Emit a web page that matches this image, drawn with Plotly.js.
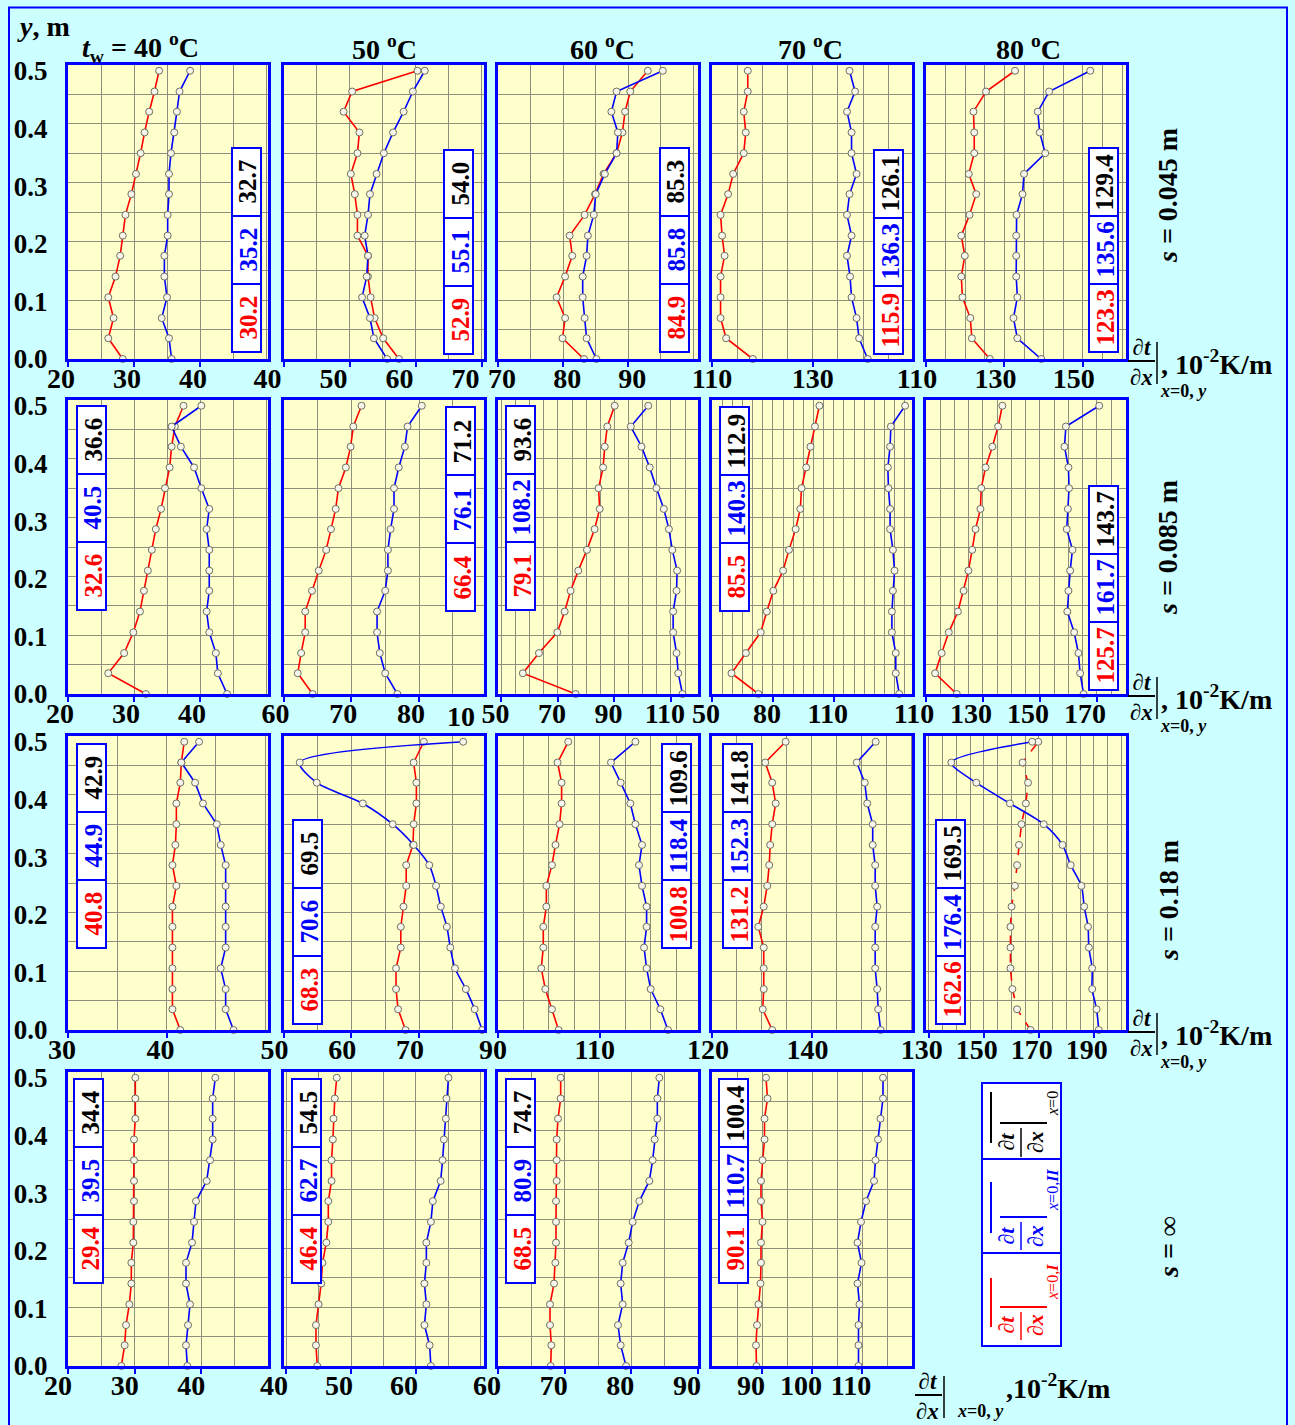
<!DOCTYPE html>
<html><head><meta charset="utf-8">
<script src="https://cdn.plot.ly/plotly-3.0.1.min.js"></script>
<style>html,body{margin:0;padding:0;background:#ccffff;}#chart{width:1295px;height:1425px;}</style>
</head><body><div id="chart"></div>
<script>
// ---------------- DATA ----------------
// measurement heights y, m (bottom to top)
const heights = [0, 0.036, 0.071, 0.107, 0.143, 0.179, 0.214, 0.25, 0.286, 0.321, 0.357, 0.393, 0.429, 0.464, 0.5];
const yTickVals = [0, 0.1, 0.2, 0.3, 0.4, 0.5];
const yTickText = ['0.0', '0.1', '0.2', '0.3', '0.4', '0.5'];
const wallTemps = ['<i>t</i><sub>w</sub> = 40 <sup>o</sup>C', '50 <sup>o</sup>C', '60 <sup>o</sup>C', '70 <sup>o</sup>C', '80 <sup>o</sup>C'];
const gapLabels = ['<i>s</i> = 0.045 m', '<i>s</i> = 0.085 m', '<i>s</i> = 0.18 m', '<i>s</i> = ∞'];

// s = 0.045 m  (I = red, II = blue)
const g045_40_I  = [28.3, 26.1, 26.9, 26.1, 27.2, 27.9, 28.3, 28.7, 29.6, 30.3, 31.0, 31.6, 32.3, 33.1, 33.8];
const g045_40_II = [35.7, 35.3, 34.2, 35.0, 34.6, 34.6, 35.1, 35.1, 35.3, 35.3, 35.6, 36.1, 36.5, 36.9, 38.5];
const g045_50_I  = [57.5, 55.1, 53.8, 53.2, 52.8, 52.8, 51.2, 51.2, 50.8, 50.2, 51.2, 51.5, 49.1, 50.4, 60.3];
const g045_50_II = [55.7, 53.7, 53.1, 51.9, 52.6, 52.8, 52.3, 52.8, 53.1, 54.1, 55.2, 56.6, 58.2, 59.6, 61.4];
const g045_60_I  = [83.2, 79.9, 80.3, 79.0, 80.3, 81.4, 81.0, 83.3, 84.9, 86.2, 88.2, 89.1, 89.5, 90.3, 93.0];
const g045_60_II = [85.1, 83.6, 83.3, 83.0, 83.0, 83.6, 83.8, 84.7, 85.0, 86.4, 88.2, 88.4, 87.4, 88.2, 95.3];
const g045_70_I  = [118.1, 112.8, 111.7, 111.7, 111.7, 112.5, 112.0, 111.7, 113.2, 114.2, 116.3, 116.7, 116.3, 117.1, 117.1];
const g045_70_II = [140.9, 139.2, 138.7, 137.7, 137.4, 136.8, 137.7, 136.8, 137.3, 138.7, 137.7, 137.7, 136.8, 138.4, 137.3];
const g045_80_I  = [126.3, 121.7, 121.3, 119.3, 119.0, 119.9, 119.0, 121.1, 122.8, 120.9, 122.3, 122.3, 122.1, 125.3, 132.7];
const g045_80_II = [139.4, 133.3, 132.3, 133.3, 133.0, 133.0, 133.0, 133.1, 134.6, 135.0, 140.4, 139.0, 138.5, 141.4, 151.9];
// s = 0.085 m
const g085_40_I  = [31.8, 26.1, 28.5, 29.9, 30.9, 31.5, 32.1, 32.7, 33.3, 34.1, 34.7, 35.4, 35.7, 36.2, 37.5];
const g085_40_II = [44.1, 42.7, 42.4, 41.4, 41.0, 41.4, 41.4, 41.4, 41.0, 41.4, 40.2, 39.1, 37.1, 35.7, 40.2];
const g085_50_I  = [64.3, 62.1, 62.6, 63.2, 63.2, 64.2, 65.2, 66.3, 67.0, 67.7, 68.1, 69.2, 69.9, 70.3, 71.5];
const g085_50_II = [76.8, 75.0, 74.2, 73.8, 73.8, 75.0, 75.4, 75.4, 75.8, 76.3, 76.3, 77.0, 77.9, 78.3, 80.4];
const g085_60_I  = [76.3, 57.6, 63.3, 69.8, 72.4, 74.5, 77.2, 80.3, 83.0, 84.8, 84.4, 86.0, 86.6, 87.5, 90.1];
const g085_60_II = [114.1, 112.6, 112.0, 110.8, 110.8, 112.0, 112.2, 110.5, 109.3, 107.5, 104.9, 102.5, 99.6, 95.8, 102.0];
const g085_70_I  = [72.9, 59.6, 66.7, 74.0, 77.0, 80.2, 85.0, 87.9, 91.2, 93.5, 94.1, 96.4, 98.5, 100.7, 102.9];
const g085_70_II = [142.2, 140.5, 140.5, 138.6, 138.6, 139.1, 139.9, 139.1, 137.7, 137.7, 136.9, 136.6, 137.7, 138.1, 145.1];
const g085_80_I  = [120.8, 113.2, 115.5, 118.0, 121.2, 123.2, 124.9, 126.2, 127.4, 129.1, 129.4, 130.9, 133.3, 135.3, 136.8];
const g085_80_II = [165.3, 164.1, 163.5, 162.0, 159.6, 160.0, 160.6, 161.4, 159.4, 159.8, 160.2, 160.0, 158.6, 159.1, 170.8];
// s = 0.18 m
const g18_40_I  = [41.4, 40.6, 40.6, 40.6, 40.6, 40.6, 40.6, 41.0, 40.6, 40.9, 41.0, 41.0, 41.4, 41.5, 41.8];
const g18_40_II = [46.8, 46.0, 46.0, 45.5, 46.0, 46.0, 46.0, 46.0, 46.0, 45.5, 45.1, 43.7, 42.9, 41.5, 43.3];
const g18_50_I  = [68.0, 66.9, 66.6, 66.6, 67.3, 67.3, 67.7, 68.1, 68.1, 69.1, 69.2, 69.6, 69.6, 69.2, 70.7];
const g18_50_II = [79.3, 78.2, 76.9, 75.3, 74.6, 74.1, 73.2, 72.5, 71.5, 69.2, 66.1, 61.7, 54.9, 52.4, 76.5];
const g18_60_I  = [101.9, 100.6, 99.3, 98.5, 98.9, 98.9, 99.5, 99.5, 100.6, 101.3, 102.1, 102.5, 102.5, 101.7, 103.8];
const g18_60_II = [123.4, 121.9, 120.0, 119.2, 118.7, 119.2, 119.2, 118.3, 117.7, 118.3, 117.0, 116.0, 114.1, 112.2, 117.0];
const g18_70_I  = [132.1, 130.2, 130.4, 130.4, 130.4, 129.3, 130.4, 131.1, 131.5, 131.7, 132.1, 132.8, 132.1, 130.7, 134.8];
const g18_70_II = [153.9, 153.4, 153.2, 152.8, 152.8, 152.8, 153.2, 152.8, 152.8, 152.3, 152.3, 151.2, 150.7, 149.1, 152.9];
const g18_80_I  = [167.0, 162.1, 160.4, 159.7, 159.7, 159.7, 160.1, 161.3, 162.1, 162.8, 163.7, 165.3, 166.1, 164.1, 169.8];
const g18_80_II = [191.8, 191.0, 189.4, 189.4, 188.2, 187.9, 186.5, 185.5, 181.6, 178.6, 171.8, 159.5, 147.3, 138.2, 167.6];
// s = infinity
const ginf_40_I  = [28.0, 28.5, 28.7, 29.2, 29.5, 29.5, 29.8, 29.8, 29.9, 29.9, 29.9, 29.9, 30.1, 30.1, 30.1];
const ginf_40_II = [37.9, 37.7, 38.0, 38.3, 37.7, 37.7, 38.6, 38.9, 39.2, 40.8, 41.3, 41.7, 41.7, 41.7, 42.1];
const ginf_50_I  = [44.8, 44.6, 44.6, 45.0, 45.4, 45.6, 46.2, 46.5, 46.5, 47.0, 47.0, 47.2, 47.3, 47.5, 47.8];
const ginf_50_II = [62.3, 62.1, 61.3, 61.6, 61.3, 61.6, 61.6, 62.3, 62.6, 63.8, 64.1, 64.3, 64.6, 64.7, 65.0];
const ginf_60_I  = [67.9, 68.0, 67.8, 67.8, 68.4, 68.6, 68.7, 68.7, 68.7, 68.8, 68.8, 68.8, 69.0, 69.4, 69.4];
const ginf_60_II = [79.2, 78.4, 78.0, 78.7, 78.4, 78.7, 79.6, 80.2, 81.2, 82.7, 83.2, 83.5, 83.9, 83.9, 84.2];
const ginf_70_I  = [88.9, 88.8, 89.0, 89.3, 89.7, 89.8, 89.8, 90.1, 89.8, 89.8, 90.1, 90.5, 90.5, 91.1, 90.8];
const ginf_70_II = [109.3, 109.3, 109.3, 109.5, 109.1, 109.9, 109.1, 109.8, 110.8, 112.4, 112.7, 113.2, 113.7, 114.2, 114.2];

// mean values shown in the boxes (red I, blue II, black overall)
const meanI   = [30.2, 52.9, 84.9, 115.9, 123.3, 32.6, 66.4, 79.1, 85.5, 125.7, 40.8, 68.3, 100.8, 131.2, 162.6, 29.4, 46.4, 68.5, 90.1];
const meanII  = [35.2, 55.1, 85.8, 136.3, 135.6, 40.5, 76.1, 108.2, 140.3, 161.7, 44.9, 70.6, 118.4, 152.3, 176.4, 39.5, 62.7, 80.9, 110.7];
const meanAll = [32.7, 54.0, 85.3, 126.1, 129.4, 36.6, 71.2, 93.6, 112.9, 143.7, 42.9, 69.5, 109.6, 141.8, 169.5, 34.4, 54.5, 74.7, 100.4];

// x-axis tick labels per panel
const xTicks = [
  [20,30,40],[40,50,60,70],[70,80,90],[110,130],[110,130,150],
  [20,30,40],[60,70,80],[50,70,90,110],[50,80,110],[110,130,150,170],
  [30,40],[50,60,70],[90,110],[120,140],[130,150,170,190],
  [20,30,40],[40,50,60],[60,70,80,90],[90,100,110]
];

const seriesI  = [g045_40_I,g045_50_I,g045_60_I,g045_70_I,g045_80_I, g085_40_I,g085_50_I,g085_60_I,g085_70_I,g085_80_I, g18_40_I,g18_50_I,g18_60_I,g18_70_I,g18_80_I, ginf_40_I,ginf_50_I,ginf_60_I,ginf_70_I];
const seriesII = [g045_40_II,g045_50_II,g045_60_II,g045_70_II,g045_80_II, g085_40_II,g085_50_II,g085_60_II,g085_70_II,g085_80_II, g18_40_II,g18_50_II,g18_60_II,g18_70_II,g18_80_II, ginf_40_II,ginf_50_II,ginf_60_II,ginf_70_II];

// ---------------- LAYOUT SETTINGS ----------------
const W = 1295, H = 1425;
const FONT = '"Liberation Serif","Times New Roman",serif';
const BLUE = '#0000ff', RED = '#ff0000', GRID = '#8f8f80';
const colLeft = [68, 283.5, 498, 712, 926];
const rowTop = [65, 400, 736, 1072];
const PW = 200, PH = 294;
const xRanges = [
  [20,50.3],[40,70.3],[70,100.7],[110,149.7],[110,161],
  [20,50.3],[60,89.5],[48.8,119.6],[50,148.5],[110,180.2],
  [30,50.3],[50,79.5],[90,129.3],[120,160.2],[129,201.7],
  [20,50],[39.6,70.4],[60,90],[80,120]
];
const labelShift = [-7,-16,4,0,-9, -8,-8,-6,-6,-12, -6,-9,-5,-4,-7, -10,-12,-11,-11];
const boxPos = [[232,148],[444,150],[660,148],[874,150],[1089,148],
  [77,406],[446,407],[506,406],[720,407],[1089,486],
  [77,744],[293,820],[662,744],[723,744],[936,820],
  [74,1079],[292,1079],[506,1079],[719,1079]];

const P = x => x / W, Q = y => 1 - y / H;
const shapes = [], annotations = [];
function rect(x0, y0, x1, y1, opt) {
  shapes.push(Object.assign({type:'rect', xref:'paper', yref:'paper', x0:P(x0), x1:P(x1), y0:Q(y1), y1:Q(y0),
    line:{color:BLUE, width:2}, fillcolor:'#ffffff', layer:'above'}, opt || {}));
}
function seg(x0, y0, x1, y1, color, width) {
  shapes.push({type:'line', xref:'paper', yref:'paper', x0:P(x0), y0:Q(y0), x1:P(x1), y1:Q(y1), line:{color:color, width:width || 2}, layer:'above'});
}
function txt(x, y, t, size, color, opt) {
  annotations.push(Object.assign({xref:'paper', yref:'paper', x:P(x), y:Q(y), text:t, showarrow:false,
    xanchor:'center', yanchor:'middle', borderpad:0, font:{family:FONT, size:size, color:color || '#000'}}, opt || {}));
}

const traces = [];
const layout = {
  width: W, height: H, margin:{l:0, r:0, t:0, b:0},
  paper_bgcolor:'#ccffff', plot_bgcolor:'#ffffcc', showlegend:false,
  font:{family:FONT, color:'#000'}
};

for (let i = 0; i < 19; i++) {
  const row = Math.floor(i / 5), col = i % 5;
  const sfx = i === 0 ? '' : String(i + 1);
  const x0 = colLeft[col], y0 = rowTop[row];
  layout['xaxis' + sfx] = {
    domain:[P(x0), P(x0 + PW)], anchor:'y' + sfx, range:xRanges[i],
    showline:true, linecolor:BLUE, linewidth:3, mirror:true,
    ticks:'outside', ticklen:5, tickwidth:2, tickcolor:BLUE,
    tickmode:'array', tickvals:xTicks[i], ticktext:xTicks[i].map(String),
    ticklabelshift:labelShift[i], ticklabelstandoff:-13,
    tickfont:{family:FONT, size:28, color:'#000', weight:'bold'},
    showgrid:true, gridcolor:GRID, gridwidth:1, zeroline:false, fixedrange:true,
    minor:{dtick:5, tick0:0, showgrid:true, gridcolor:GRID, gridwidth:1, ticks:''}
  };
  layout['yaxis' + sfx] = {
    domain:[Q(y0 + PH), Q(y0)], anchor:'x' + sfx, range:[0, 0.51],
    showline:true, linecolor:BLUE, linewidth:3, mirror:true,
    ticks:'', tickmode:'array', tickvals:yTickVals, ticktext:yTickText,
    showticklabels: col === 0, ticklabelstandoff:12,
    tickfont:{family:FONT, size:27, color:'#000', weight:'bold'},
    showgrid:false, zeroline:false, fixedrange:true,
    minor:{dtick:0.051, tick0:0, showgrid:true, gridcolor:GRID, gridwidth:1, ticks:''}
  };
  const smoothII = (i === 11 || i === 14);
  traces.push({
    x: seriesI[i], y: heights, xaxis:'x' + sfx, yaxis:'y' + sfx, type:'scatter', mode:'lines+markers',
    line:{color:RED, width:1.6, dash: i === 14 ? 'dash' : 'solid'},
    marker:{symbol:'circle', size:7, color:'#f6f6ea', line:{color:'#6e6e60', width:1}},
    cliponaxis:false, hoverinfo:'skip'
  });
  traces.push({
    x: seriesII[i], y: heights, xaxis:'x' + sfx, yaxis:'y' + sfx, type:'scatter', mode:'lines+markers',
    line:{color:BLUE, width:1.6, shape: smoothII ? 'spline' : 'linear', smoothing: 0.8},
    marker:{symbol:'circle', size:7, color:'#f6f6ea', line:{color:'#6e6e60', width:1}},
    cliponaxis:false, hoverinfo:'skip'
  });
  // mean value box
  const bx = boxPos[i][0], by = boxPos[i][1], bw = 29, ch = 68;
  const vals = [meanAll[i], meanII[i], meanI[i]], cols = ['#000000', BLUE, RED];
  for (let k = 0; k < 3; k++) {
    rect(bx, by + k * ch, bx + bw, by + (k + 1) * ch);
    txt(bx + bw / 2 + 1, by + k * ch + ch / 2, '<b>' + vals[k].toFixed(1) + '</b>', 25, cols[k], {textangle:-90});
  }
}

// truncated label under panel (s=0.085, 50 C)
txt(461, 716, '<b>10</b>', 28, '#000');

// outer border
shapes.push({type:'rect', xref:'paper', yref:'paper', x0:P(9), x1:P(1287), y0:Q(1440), y1:Q(7.5),
  line:{color:BLUE, width:2}, fillcolor:'rgba(0,0,0,0)', layer:'below'});

// column titles
const titleX = [140, 384, 602, 810, 1028];
for (let c = 0; c < 5; c++) txt(titleX[c], 47, '<b>' + wallTemps[c] + '</b>', 28, '#000');
txt(43, 26, '<b><i>y</i>, m</b>', 28, '#000');

// row labels
const rowLabelY = [196, 548, 901, 1247];
for (let r = 0; r < 4; r++) txt(1168, rowLabelY[r], '<b>' + gapLabels[r] + '</b>', 28, '#000', {textangle:-90});

// axis unit labels
function unitLabel(fx, base, unitX, unitY, subX, subY, sepComma) {
  txt(fx, base + 3, '<b><i>∂t</i></b><br><b><i>∂x</i></b>', 23, '#000');
  seg(fx - 13, base + 2, fx + 14, base + 2, '#000', 2);
  seg(fx + 16, base - 17, fx + 16, base + 25, '#000', 1.5);
  txt(subX, subY, '<b><i>x</i>=0, <i>y</i></b>', 18, '#000', {xanchor:'left'});
  txt(unitX, unitY, '<b>' + sepComma + '10<sup>-2</sup>K/m</b>', 28, '#000', {xanchor:'left'});
}
unitLabel(1141, 359, 1160, 362, 1159, 391, ', ');
unitLabel(1141, 694, 1160, 697, 1159, 726, ', ');
unitLabel(1141, 1030, 1160, 1033, 1159, 1062, ', ');
unitLabel(928, 1393, 1005, 1386, 956, 1411, ',');

// legend box
rect(982, 1083, 1061, 1346);
seg(982, 1159, 1061, 1159, BLUE, 2);
seg(982, 1253, 1061, 1253, BLUE, 2);
function legendCell(color, overTop, overBot, barY, fracY, fracTop, fracBot, subY, subText) {
  seg(991, overTop, 991, overBot, color, 2);
  seg(1000, barY, 1047, barY, color, 2);
  txt(1021, fracY, '<b><i>∂t</i></b><br><b><i>∂x</i></b>', 22, color, {textangle:-90});
  seg(1021, fracTop, 1021, fracBot, color, 1.5);
  txt(1052, subY, subText, 16, color, {textangle:-90});
}
legendCell('#000000', 1092, 1143, 1123, 1142, 1128, 1157, 1104, '<i>x</i>=0');
legendCell(BLUE, 1182, 1233, 1217, 1236, 1222, 1250, 1190, '<i>x</i>=0,<b><i>II</i></b>');
legendCell(RED, 1278, 1327, 1307, 1325, 1312, 1340, 1282, '<i>x</i>=0,<b><i>I</i></b>');

layout.shapes = shapes;
layout.annotations = annotations;
Plotly.newPlot('chart', traces, layout, {staticPlot:true, displayModeBar:false});
</script></body></html>
